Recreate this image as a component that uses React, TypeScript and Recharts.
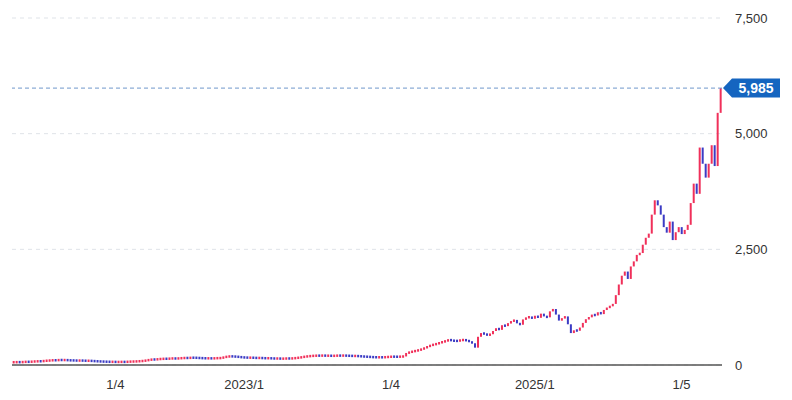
import { BarChart, Bar, XAxis, YAxis, CartesianGrid, ReferenceLine, Cell } from "recharts";

// Closing prices, one candle per ~3px
const closes: number[] = [
  60, 63, 61, 66, 70, 68, 75, 77, 82, 80,
  90, 94, 99, 104, 101, 110, 106, 108, 102, 100,
  98, 95, 97, 94, 91, 92, 86, 83, 78, 76,
  72, 71, 68, 69, 65, 67, 68, 66, 72, 74,
  76, 79, 84, 88, 100, 110, 121, 118, 128, 131,
  136, 134, 140, 143, 139, 145, 149, 153, 151, 158,
  157, 154, 150, 147, 144, 145, 142, 146, 149, 150,
  170, 181, 188, 184, 180, 174, 165, 162, 158, 159,
  155, 152, 153, 148, 146, 147, 142, 140, 141, 137,
  138, 142, 140, 145, 151, 160, 170, 182, 188, 196,
  199, 203, 201, 205, 200, 202, 197, 200, 204, 202,
  205, 200, 199, 195, 196, 190, 186, 180, 178, 172,
  169, 166, 168, 165, 172, 175, 181, 179, 178, 182,
  185, 260, 275, 296, 305, 325, 340, 372, 395, 430,
  440, 462, 478, 505, 515, 548, 528, 522, 520, 538,
  542, 531, 505, 470, 375, 610, 690, 670, 645, 665,
  735, 795, 760, 860, 840, 905, 940, 975, 900, 870,
  985, 1020, 1045, 1000, 1065, 1020, 1110, 1050, 1030, 1160,
  1210, 1090, 960, 1010, 1050, 880, 690, 750, 740, 810,
  910, 990, 1030, 1090, 1070, 1140, 1100, 1190, 1240, 1270,
  1320, 1510, 1740, 1930, 2020, 1860, 2130, 2240, 2380, 2420,
  2600, 2750, 2840, 3250, 3560, 3450, 3250, 2980, 2860, 3100,
  2700, 2870, 2980, 2830, 2920, 3030, 3500, 3920, 3700, 4700,
  4350, 4050, 4350, 4750, 4300, 5450, 5985,
];

// x tick positions (candle index) and their labels
const tickIndex = [34, 77, 126, 174, 223];
const tickLabels = ["1/4", "2023/1", "1/4", "2025/1", "1/5"];

const yTicks = [0, 2500, 5000, 7500];
const lastPrice = 5985;

const UP = "#f0305a";
const DOWN = "#3b3bc4";
const FONT = "'Liberation Sans', Arial, sans-serif";

const rows = closes.map((c, i) => {
  const open = i === 0 ? c : closes[i - 1];
  return { i, range: [Math.min(open, c), Math.max(open, c)], up: c >= open };
});

function Candle(props: any) {
  const { x, y, width, height, fill } = props;
  const top = Math.min(y, y + height);
  const absH = Math.abs(height);
  const h = Math.max(absH, 2.5);
  const y0 = absH < 2.5 ? top + absH / 2 - 1.25 : top;
  return <rect x={x} y={y0} width={width} height={h} fill={fill} />;
}

function PriceTag({ viewBox }: any) {
  const y = viewBox.y;
  const x0 = 723;
  return (
    <g>
      <path
        d={`M${x0},${y} L${x0 + 9},${y - 9.5} L${780},${y - 9.5} L${780},${y + 9.5} L${x0 + 9},${y + 9.5} Z`}
        fill="#1565c0"
      />
      <text
        x={756}
        y={y}
        textAnchor="middle"
        dominantBaseline="central"
        fill="#fff"
        fontSize={14}
        fontWeight={600}
        fontFamily={FONT}
      >
        {lastPrice.toLocaleString("en-US")}
      </text>
    </g>
  );
}

export default function App() {
  return (
    <div style={{ position: "absolute", left: 0, top: 0, background: "#fff" }}>
      <BarChart
        width={792}
        height={400}
        data={rows}
        margin={{ top: 18, right: 8, bottom: 0, left: 12 }}
        barCategoryGap="22%"
      >
        <CartesianGrid vertical={false} stroke="#dfe3e8" strokeDasharray="4 4" />
        <XAxis
          dataKey="i"
          ticks={tickIndex}
          interval={0}
          tickFormatter={(v: number) => tickLabels[tickIndex.indexOf(v)] ?? ""}
          tickLine={false}
          axisLine={{ stroke: "#555", strokeWidth: 1.5 }}
          tick={{ fill: "#333", fontSize: 13, fontFamily: FONT }}
          tickMargin={9}
          height={35}
        />
        <YAxis
          orientation="right"
          domain={[0, 7500]}
          ticks={yTicks}
          tickFormatter={(v: number) => v.toLocaleString("en-US")}
          axisLine={false}
          tickLine={false}
          tickSize={0}
          tickMargin={13}
          width={62}
          tick={{ fill: "#333", fontSize: 13, fontFamily: FONT, textAnchor: "start" }}
        />
        <ReferenceLine
          y={lastPrice}
          stroke="#6f98cc"
          strokeDasharray="4 3"
          label={<PriceTag />}
        />
        <Bar dataKey="range" isAnimationActive={false} shape={<Candle />}>
          {rows.map((r) => (
            <Cell key={r.i} fill={r.up ? UP : DOWN} />
          ))}
        </Bar>
      </BarChart>
    </div>
  );
}
